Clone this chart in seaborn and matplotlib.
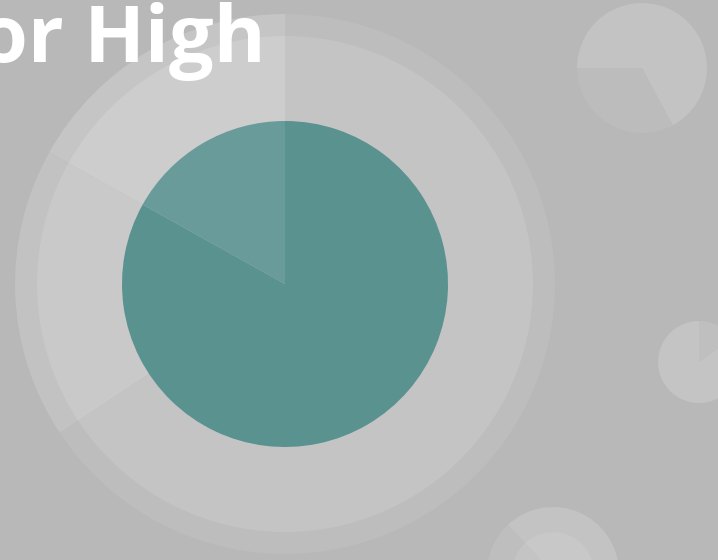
import matplotlib
matplotlib.use("Agg")
import matplotlib.pyplot as plt
import seaborn as sns

# Main chart shares (percent), counter-clockwise from 12 o'clock
main_labels = ["High", "Medium", "Other"]
main_shares = [16.9, 17.4, 65.7]
inner_shares = [16.9, 83.1]

# Decorative small pies
corner_shares = [32.9, 67.1]
side_shares = [15.0, 85.0]
bottom_shares = [27.0, 73.0]

title_text = "Monitor High"

sns.set_theme(style="white")
plt.rcParams["font.family"] = ["Open Sans", "DejaVu Sans"]

W, H = 718, 560
fig = plt.figure(figsize=(W / 100, H / 100), dpi=100, facecolor="#b8b8b8")
ax = fig.add_axes([0, 0, 1, 1])
ax.set_facecolor("#b8b8b8")

wp = dict(linewidth=0, antialiased=True)


def pie(vals, x, y, r, start, colors):
    ax.pie(vals, radius=r, center=(x, H - y), startangle=start,
           counterclock=True, colors=colors, wedgeprops=wp)


# big ring (two concentric layers) and teal pie
pie(main_shares, 285, 284, 270, 90, ["#c5c5c5", "#c2c2c2", "#bdbdbd"])
pie(main_shares, 285, 284, 248, 90, ["#cdcdcd", "#c9c9c9", "#c4c4c4"])
pie(inner_shares, 285, 284, 163, 90, ["#699b9a", "#5a9290"])

# background decorations
pie(corner_shares, 642, 68, 65, 180, ["#bcbcbc", "#c3c3c3"])
pie(side_shares, 699, 362, 41, 36, ["#bfbfbf", "#c4c4c4"])
pie(bottom_shares, 553, 573, 66, 133, ["#bebebe", "#c3c3c3"])
pie(bottom_shares, 553, 573, 41, 133, ["#c4c4c4", "#c8c8c8"])

ax.text(266, H - 62, title_text, ha="right", va="baseline", color="white",
        fontsize=57, fontweight="bold")

ax.set_xlim(0, W)
ax.set_ylim(0, H)
ax.set_aspect("equal")
ax.axis("off")

fig.savefig("out.png", dpi=100, facecolor=fig.get_facecolor())
